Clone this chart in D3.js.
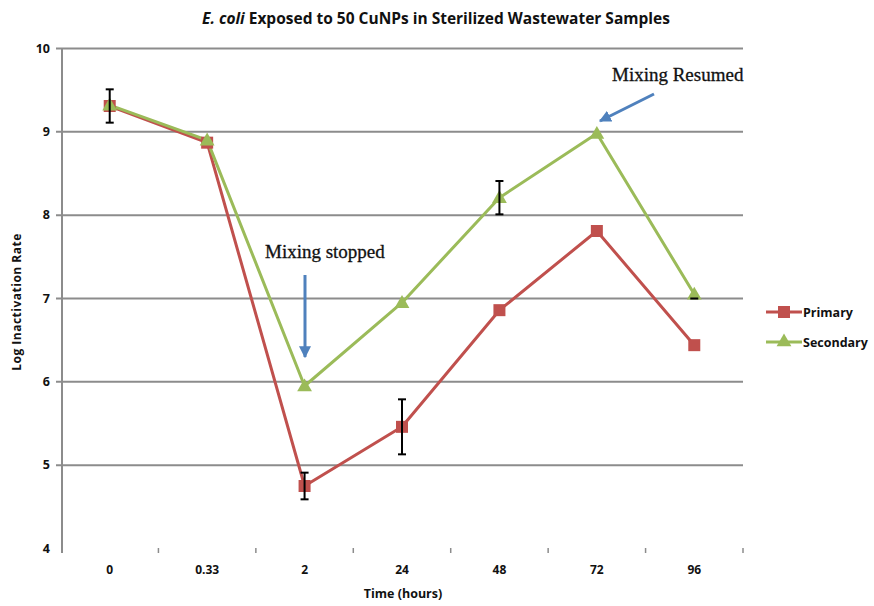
<!DOCTYPE html>
<html><head><meta charset="utf-8">
<script src="https://cdn.jsdelivr.net/npm/d3@7"></script>
<style>body{margin:0;background:#fff}svg{display:block}</style>
</head><body>
<svg id="c" width="874" height="606"></svg>
<script>
const categories = ["0","0.33","2","24","48","72","96"];
const primary = [9.31, 8.87, 4.75, 5.46, 6.86, 7.81, 6.44];
const secondary = [9.32, 8.90, 5.95, 6.95, 8.21, 8.98, 7.05];
const primaryErr = [0.2, 0, 0.16, 0.33, 0, 0, 0];
const secondaryErr = [0, 0, 0, 0, 0.2, 0, 0.05];
const yTicks = [4,5,6,7,8,9,10];
const seriesNames = ["Primary","Secondary"];
const colors = ["#c0504d","#9bbb59"];

const svg = d3.select("#c");
const x = d3.scaleBand().domain(categories).range([61, 743]).padding(0);
const y = d3.scaleLinear().domain([4,10]).range([548.5, 48.5]);
const font = "'Open Sans', Lato, sans-serif";

// gridlines
svg.append("g").selectAll("line").data(yTicks.filter(d=>d>4)).join("line")
  .attr("x1", 56).attr("x2", 743).attr("y1", d=>y(d)).attr("y2", d=>y(d))
  .attr("stroke", "#8c8c8c").attr("stroke-width", 2);
// y axis line
svg.append("line").attr("x1",62).attr("x2",62).attr("y1",y(10)).attr("y2",553)
  .attr("stroke","#8c8c8c").attr("stroke-width",2);
// y tick labels
svg.append("g").selectAll("text").data(yTicks).join("text")
  .attr("x", 50).attr("y", d=>y(d)+4).attr("text-anchor","end")
  .attr("font-family", font).attr("font-weight","bold").attr("font-size",12.5).attr("fill","#111")
  .text(d=>d);
// x ticks (boundaries)
const bounds = categories.map(c=>x(c)).concat([x.range()[1]]).slice(1);
svg.append("g").selectAll("line").data(bounds).join("line")
  .attr("x1", d=>d).attr("x2", d=>d).attr("y1", 548).attr("y2", 553)
  .attr("stroke","#8c8c8c").attr("stroke-width",1.5);
// x labels
svg.append("g").selectAll("text").data(categories).join("text")
  .attr("x", d=>x(d)+x.bandwidth()/2).attr("y", 574).attr("text-anchor","middle")
  .attr("font-family", font).attr("font-weight","bold").attr("font-size",12).attr("fill","#111")
  .text(d=>d);

// axis titles
svg.append("text").attr("x", 403).attr("y", 598).attr("text-anchor","middle")
  .attr("font-family", font).attr("font-weight","bold").attr("font-size",12.5).attr("fill","#111")
  .text("Time (hours)");
svg.append("text").attr("transform","translate(21,302) rotate(-90)").attr("text-anchor","middle")
  .attr("font-family", font).attr("font-weight","bold").attr("font-size",12).attr("letter-spacing",0.5).attr("fill","#111")
  .text("Log Inactivation Rate");

// title
const t = svg.append("text").attr("x", 436).attr("y", 24).attr("text-anchor","middle")
  .attr("font-family", font).attr("font-weight","bold").attr("font-size",15.5).attr("fill","#111");
t.append("tspan").attr("font-style","italic").text("E. coli");
t.append("tspan").text(" Exposed to 50 CuNPs in Sterilized Wastewater Samples");

const cx = d => x(d) + x.bandwidth()/2;
const line = d3.line().x(d=>cx(d[0])).y(d=>y(d[1]));
const allSeries = [primary, secondary];
const allErr = [primaryErr, secondaryErr];

allSeries.forEach((vals, i) => {
  const pts = categories.map((c,j)=>[c, vals[j]]);
  svg.append("path").attr("d", line(pts)).attr("fill","none")
    .attr("stroke", colors[i]).attr("stroke-width", 3).attr("stroke-linejoin","round");
});
// markers
svg.append("g").selectAll("rect").data(categories.map((c,j)=>[c, primary[j]])).join("rect")
  .attr("x", d=>cx(d[0])-6).attr("y", d=>y(d[1])-6).attr("width",12).attr("height",12)
  .attr("fill", colors[0]);
const tri = d3.symbol().type(d3.symbolTriangle).size(95);
svg.append("g").selectAll("path").data(categories.map((c,j)=>[c, secondary[j]])).join("path")
  .attr("d", tri).attr("transform", d=>`translate(${cx(d[0])},${y(d[1])+1})`)
  .attr("fill", colors[1]);

// error bars
allSeries.forEach((vals, i) => {
  const data = categories.map((c,j)=>[c, vals[j], allErr[i][j]]).filter(d=>d[2]>0);
  const g = svg.append("g").attr("stroke","#000").attr("stroke-width",2);
  data.forEach(d => {
    const xx = cx(d[0]);
    if (d[2] > 0.08) {
      g.append("line").attr("x1",xx).attr("x2",xx).attr("y1",y(d[1]+d[2])).attr("y2",y(d[1]-d[2]));
      g.append("line").attr("x1",xx-4).attr("x2",xx+4).attr("y1",y(d[1]+d[2])).attr("y2",y(d[1]+d[2]));
    }
    g.append("line").attr("x1",xx-4).attr("x2",xx+4).attr("y1",y(d[1]-d[2])).attr("y2",y(d[1]-d[2]));
  });
});

// annotations
const defs = svg.append("defs");
defs.append("marker").attr("id","ah").attr("viewBox","0 0 10 10").attr("refX",9).attr("refY",5)
  .attr("markerWidth",4).attr("markerHeight",4).attr("orient","auto")
  .append("path").attr("d","M0,0 L10,5 L0,10 Z").attr("fill","#4f81bd");
svg.append("text").attr("x", 265).attr("y", 258).attr("font-family","'Liberation Serif', serif")
  .attr("font-size",19).attr("fill","#111").attr("stroke","#111").attr("stroke-width",0.3).text("Mixing stopped");
svg.append("line").attr("x1",305).attr("x2",305).attr("y1",275).attr("y2",357)
  .attr("stroke","#4f81bd").attr("stroke-width",3).attr("marker-end","url(#ah)");
svg.append("text").attr("x", 612).attr("y", 81).attr("font-family","'Liberation Serif', serif")
  .attr("font-size",19).attr("fill","#111").attr("stroke","#111").attr("stroke-width",0.3).text("Mixing Resumed");
svg.append("line").attr("x1",654).attr("x2",600).attr("y1",94).attr("y2",121)
  .attr("stroke","#4f81bd").attr("stroke-width",3).attr("marker-end","url(#ah)");

// legend
seriesNames.forEach((n,i) => {
  const yy = 312 + i*30;
  svg.append("line").attr("x1",766).attr("x2",802).attr("y1",yy).attr("y2",yy)
    .attr("stroke",colors[i]).attr("stroke-width",3);
  if (i===0) svg.append("rect").attr("x",778).attr("y",yy-6).attr("width",12).attr("height",12).attr("fill",colors[0]);
  else svg.append("path").attr("d",tri).attr("transform",`translate(784,${yy})`).attr("fill",colors[1]);
  svg.append("text").attr("x",803).attr("y",yy+5).attr("font-family",font).attr("font-weight","bold")
    .attr("font-size",12.5).attr("fill","#111").text(n);
});
</script>
</body></html>
